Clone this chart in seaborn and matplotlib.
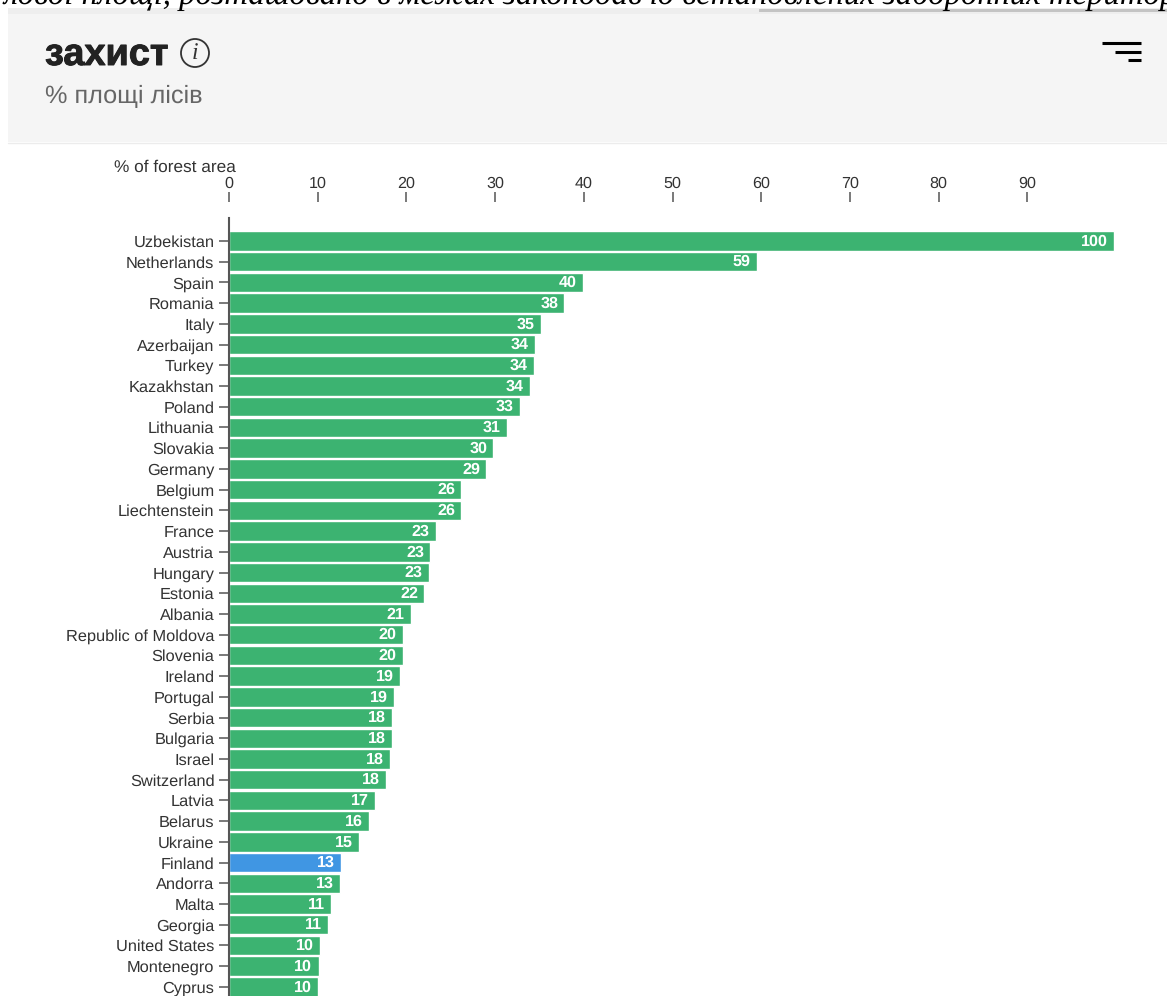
import matplotlib
matplotlib.use("Agg")
import matplotlib.pyplot as plt
import matplotlib.patheffects as pe
from matplotlib.patches import Circle, Rectangle
import pandas as pd
import seaborn as sns

countries = ["Uzbekistan", "Netherlands", "Spain", "Romania", "Italy", "Azerbaijan", "Turkey",
             "Kazakhstan", "Poland", "Lithuania", "Slovakia", "Germany", "Belgium", "Liechtenstein",
             "France", "Austria", "Hungary", "Estonia", "Albania", "Republic of Moldova", "Slovenia",
             "Ireland", "Portugal", "Serbia", "Bulgaria", "Israel", "Switzerland", "Latvia", "Belarus",
             "Ukraine", "Finland", "Andorra", "Malta", "Georgia", "United States", "Montenegro", "Cyprus"]
# bar lengths
values = [99.8, 59.5, 39.9, 37.8, 35.2, 34.5, 34.4, 33.9, 32.8, 31.3, 29.8, 29.0, 26.2, 26.2,
          23.3, 22.7, 22.5, 22.0, 20.5, 19.6, 19.6, 19.3, 18.6, 18.4, 18.4, 18.2, 17.7, 16.5,
          15.8, 14.7, 12.6, 12.5, 11.5, 11.2, 10.3, 10.1, 10.0]
# the printed labels do not always round the same way as the bars
labels = [100, 59, 40, 38, 35, 34, 34, 34, 33, 31, 30, 29, 26, 26, 23, 23, 23, 22, 21, 20, 20,
          19, 19, 18, 18, 18, 18, 17, 16, 15, 13, 13, 11, 11, 10, 10, 10]
highlight = "Finland"
x_ticks = [0, 10, 20, 30, 40, 50, 60, 70, 80, 90]

W, H = 1167, 996
GREEN = "#3cb371"
BLUE = "#4096e3"

sns.set_theme(style="white")
plt.rcParams["font.family"] = ["Liberation Sans", "DejaVu Sans"]
plt.rcParams["text.hinting"] = "no_hinting"

df = pd.DataFrame({"country": countries, "value": values})
colors = {c: (BLUE if c == highlight else GREEN) for c in countries}

fig = plt.figure(figsize=(W / 100, H / 100), dpi=100)

# plot area runs from the axis line down past the bottom of the image
left, right, top, bottom = 229, 1167, 218, 996
ax = fig.add_axes([left / W, 1 - bottom / H, (right - left) / W, (bottom - top) / H])
sns.barplot(data=df, x="value", y="country", hue="country", palette=colors, legend=False,
            width=0.94, saturation=1, ax=ax)

ax.set_xlim(0, (right - left) / 8.87)
ax.set_ylim((bottom - 241) / 20.72, (top - 241) / 20.72)
ax.set_xlabel("")
ax.set_ylabel("")

for s in ["right", "bottom"]:
    ax.spines[s].set_visible(False)
ax.spines["left"].set_color("#555555")
ax.spines["left"].set_linewidth(1.5)

# ticks sit above the plot, detached from it
ax.spines["top"].set_position(("outward", 11.5))
ax.spines["top"].set_visible(False)
ax.xaxis.tick_top()
ax.set_xticks(x_ticks)
ax.tick_params(axis="x", length=7, width=1.1, color="#555555", pad=1, labelsize=11.6, labelcolor="#333333")
ax.tick_params(axis="y", left=True, length=7, width=1.1, color="#555555", pad=3.5, labelsize=11.8, labelcolor="#333333")

for i, lab in enumerate(labels):
    ax.text(values[i] - 0.7, i + 0.02, str(lab), ha="right", va="center", color="white",
            fontsize=11.6, fontweight="bold")

# page furniture around the chart, placed in pixels
px = fig.add_axes([0, 0, 1, 1], zorder=-1)
px.set_xlim(0, W)
px.set_ylim(H, 0)
px.axis("off")
px.add_patch(Rectangle((8, 8), W - 8, 134, facecolor="#f5f5f5", edgecolor="none"))
px.add_patch(Rectangle((8, 8), W - 8, 6, facecolor="#eeeeee", edgecolor="none"))
px.add_patch(Rectangle((759, 9), W - 759, 3, facecolor="#c4c4c4", edgecolor="none"))
px.plot([8, W], [142.5, 142.5], color="#ececec", lw=1)

px.text(45, 65, "захист", fontsize=27.3, fontweight="bold", color="#222222", va="baseline", ha="left",
        path_effects=[pe.withStroke(linewidth=0.7, foreground="#222222")])
px.add_patch(Circle((195, 53), 14, facecolor="none", edgecolor="#333333", lw=1.3))
px.text(195, 53.5, "i", fontsize=17, style="italic", family="Liberation Serif", color="#333333",
        ha="center", va="center")
px.text(45, 103, "% площі лісів", fontsize=18.2, color="#666666", va="baseline", ha="left")
px.text(236, 167, "% of forest area", fontsize=12.4, color="#333333", ha="right", va="center")

for x0, y0 in [(1102, 42.7), (1115, 51.7), (1128, 60.3)]:
    px.plot([x0, 1141], [y0, y0], color="black", lw=2.2, solid_capstyle="butt")

px.text(4, 4, "лової площі, розташовано в межах законодавчо встановлених заборонних територій",
        fontsize=23.6, style="italic", family="Liberation Serif", color="black", ha="left", va="baseline")

fig.savefig("out.png", dpi=100, facecolor="white")
